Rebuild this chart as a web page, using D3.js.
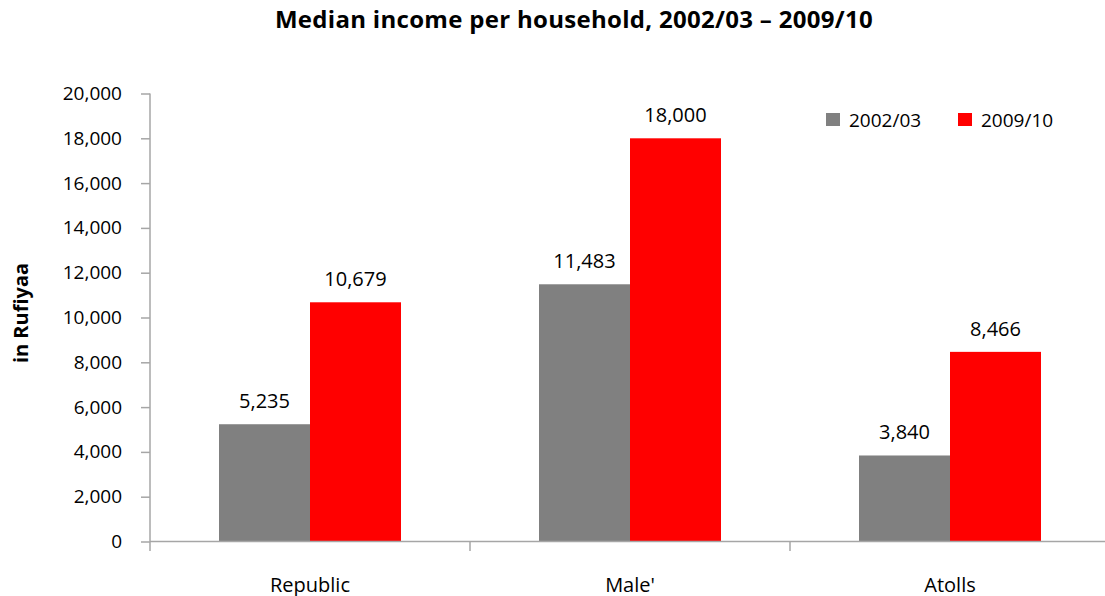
<!DOCTYPE html>
<html>
<head>
<meta charset="utf-8">
<script src="https://d3js.org/d3.v7.min.js"></script>
<style>
  body { margin: 0; background: #fff; }
  text { font-family: "Open Sans", "Noto Sans", sans-serif; fill: #000; }
</style>
</head>
<body>
<div id="chart"></div>
<script>
var regions = ["Republic", "Male'", "Atolls"];
var seriesNames = ["2002/03", "2009/10"];
var values2002 = [5235, 11483, 3840];
var values2009 = [10679, 18000, 8466];
var seriesColors = ["#808080", "#ff0000"];
var yTicks = [0, 2000, 4000, 6000, 8000, 10000, 12000, 14000, 16000, 18000, 20000];

var width = 1105, height = 596;
var svg = d3.select("#chart").append("svg")
  .attr("width", width).attr("height", height);

var x = d3.scaleBand().domain(regions).range([150, 1110]).paddingInner(0).paddingOuter(0);
var x1 = d3.scaleBand().domain(seriesNames).range([69, x.bandwidth() - 69]);
var y = d3.scaleLinear().domain([0, 20000]).range([541.5, 93.5]);

// title
svg.append("text")
  .attr("x", 574).attr("y", 28)
  .attr("text-anchor", "middle")
  .style("font-size", "24px").style("font-weight", "bold")
  .style("letter-spacing", "0.3px")
  .text("Median income per household, 2002/03 \u2013 2009/10");

// y label
svg.append("text")
  .attr("transform", "translate(28,313) rotate(-90)")
  .attr("text-anchor", "middle")
  .style("font-size", "20px").style("font-weight", "bold")
  .text("in Rufiyaa");

// y axis
var yAxis = svg.append("g")
  .attr("transform", "translate(150,0)")
  .call(d3.axisLeft(y).tickValues(yTicks).tickSize(9).tickPadding(19)
    .tickFormat(d3.format(",")));
yAxis.selectAll("path, line").attr("stroke", "#a6a6a6").attr("stroke-width", 1.5);
yAxis.select(".domain").attr("d", "M0,93.5V541.5");
yAxis.selectAll("text").style("font-size", "19px").style("fill", "#000");

// bars
var data = regions.map(function(r, i){
  return { region: r, vals: [values2002[i], values2009[i]] };
});
var groups = svg.selectAll("g.region").data(data).enter().append("g")
  .attr("class", "region")
  .attr("transform", function(d){ return "translate(" + x(d.region) + ",0)"; });

groups.selectAll("rect").data(function(d){
  return d.vals.map(function(v, j){ return { s: seriesNames[j], v: v, c: seriesColors[j] }; });
}).enter().append("rect")
  .attr("x", function(d){ return x1(d.s); })
  .attr("width", x1.bandwidth())
  .attr("y", function(d){ return y(d.v); })
  .attr("height", function(d){ return y(0) - y(d.v); })
  .attr("fill", function(d){ return d.c; });

groups.selectAll("text.val").data(function(d){
  return d.vals.map(function(v, j){ return { s: seriesNames[j], v: v }; });
}).enter().append("text")
  .attr("class", "val")
  .attr("x", function(d){ return x1(d.s) + x1.bandwidth() / 2; })
  .attr("y", function(d){ return y(d.v) - 16; })
  .attr("text-anchor", "middle")
  .style("font-size", "20px")
  .text(function(d){ return d3.format(",")(d.v); });

// x axis
var xAxis = svg.append("g")
  .attr("transform", "translate(0,541.5)")
  .call(d3.axisBottom(x).tickSize(0).tickPadding(0));
xAxis.select(".domain").attr("stroke", "#a6a6a6").attr("stroke-width", 1.5)
  .attr("d", "M150,0H1110");
xAxis.selectAll(".tick text").attr("y", 50).attr("dy", 0).style("font-size", "20px");
xAxis.selectAll(".tick line").remove();
// category boundary ticks
svg.selectAll("line.bnd").data(regions).enter().append("line")
  .attr("class", "bnd")
  .attr("x1", function(d){ return x(d); }).attr("x2", function(d){ return x(d); })
  .attr("y1", 541.5).attr("y2", 551)
  .attr("stroke", "#a6a6a6").attr("stroke-width", 1.5);

// legend
var legend = svg.append("g");
var legendX = [826, 958];
seriesNames.forEach(function(s, i){
  legend.append("rect")
    .attr("x", legendX[i]).attr("y", 113)
    .attr("width", 14).attr("height", 13)
    .attr("fill", seriesColors[i]);
  legend.append("text")
    .attr("x", legendX[i] + 23).attr("y", 127)
    .style("font-size", "19px")
    .text(s);
});
</script>
</body>
</html>
